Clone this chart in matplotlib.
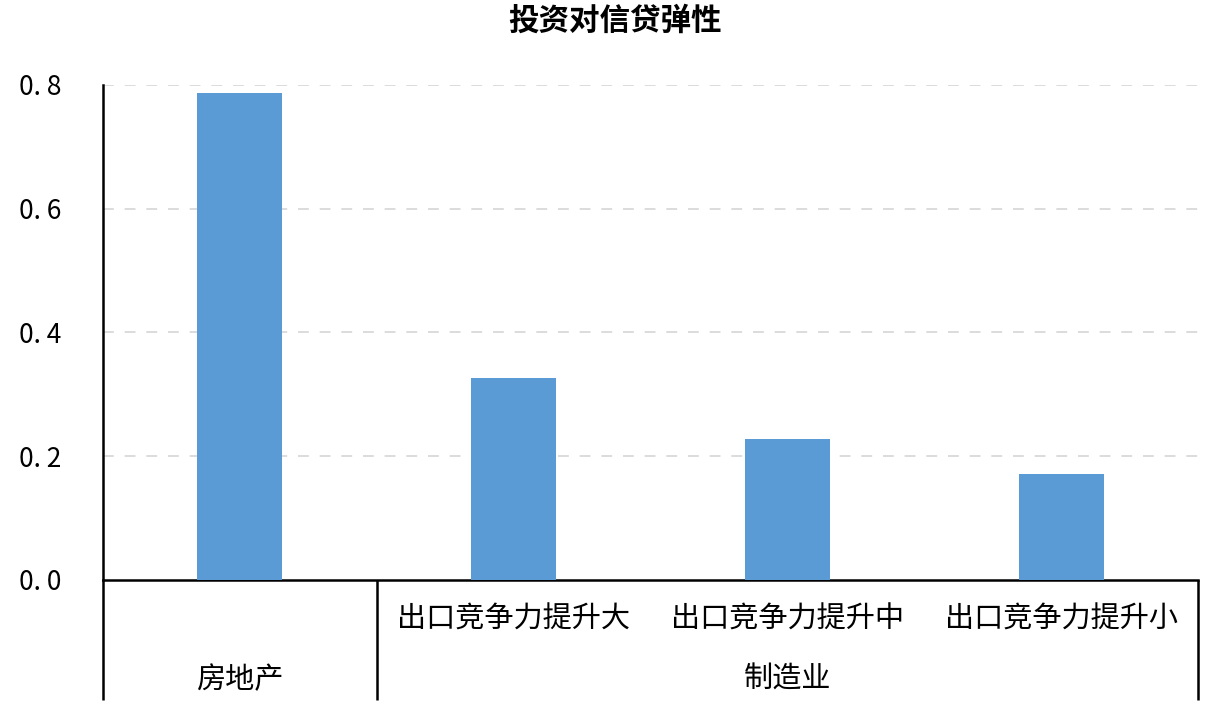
import numpy as np
import matplotlib
matplotlib.use('Agg')
import matplotlib.pyplot as plt
import matplotlib.transforms as mtrans

plt.rcParams['font.family'] = ['Noto Sans CJK SC', 'DejaVu Sans']

# 数据
groups = ['房地产', '制造业']
group_sizes = [1, 3]
labels = ['', '出口竞争力提升大', '出口竞争力提升中', '出口竞争力提升小']
values = [0.787, 0.326, 0.228, 0.171]
yticks = [0.0, 0.2, 0.4, 0.6, 0.8]
ytick_labels = ['0. 0', '0. 2', '0. 4', '0. 6', '0. 8']

fig = plt.figure(figsize=(12.14, 7.10), dpi=100)
ax = fig.add_axes([0.0848, 0.1831, 0.9020, 0.6972])

x = np.arange(len(values))
ax.bar(x, values, width=0.31, color='#5B9BD5', zorder=3)

ax.set_xlim(-0.5, len(values) - 0.5)
ax.set_ylim(0, 0.8)
ax.set_yticks(yticks)
ax.set_yticklabels(ytick_labels)
ax.tick_params(axis='y', length=0, pad=30, labelsize=19, colors='black')
ax.set_xticks([])

for y in yticks[1:]:
    ax.axhline(y, color='#D9D9D9', lw=1.3, ls=(0, (6, 6)), zorder=1)

for s in ['top', 'right']:
    ax.spines[s].set_visible(False)
ax.spines['left'].set_linewidth(1.8)
ax.spines['bottom'].set_linewidth(1.8)
ax.spines['left'].set_bounds(0, 0.8)

trans = mtrans.blended_transform_factory(ax.transData, ax.transAxes)
low = -120 / 495

# 分组线
edges = [-0.5]
for n in group_sizes:
    edges.append(edges[-1] + n)
for e in edges:
    ax.plot([e, e], [0, low], transform=trans, color='black', lw=1.8,
            clip_on=False, solid_capstyle='butt')

# 子分类标签
for i, lab in enumerate(labels):
    if lab:
        ax.text(i, -40 / 495, lab, transform=trans, ha='center', va='center',
                fontsize=21)

# 分组标签
start = -0.5
for g, n in zip(groups, group_sizes):
    ax.text(start + n / 2, -100 / 495, g, transform=trans, ha='center',
            va='center', fontsize=21)
    start += n

fig.text(615 / 1214, 1 - 21 / 710, '投资对信贷弹性', ha='center', va='center',
         fontsize=22, fontweight='bold')

fig.savefig('out.png', dpi=100)
